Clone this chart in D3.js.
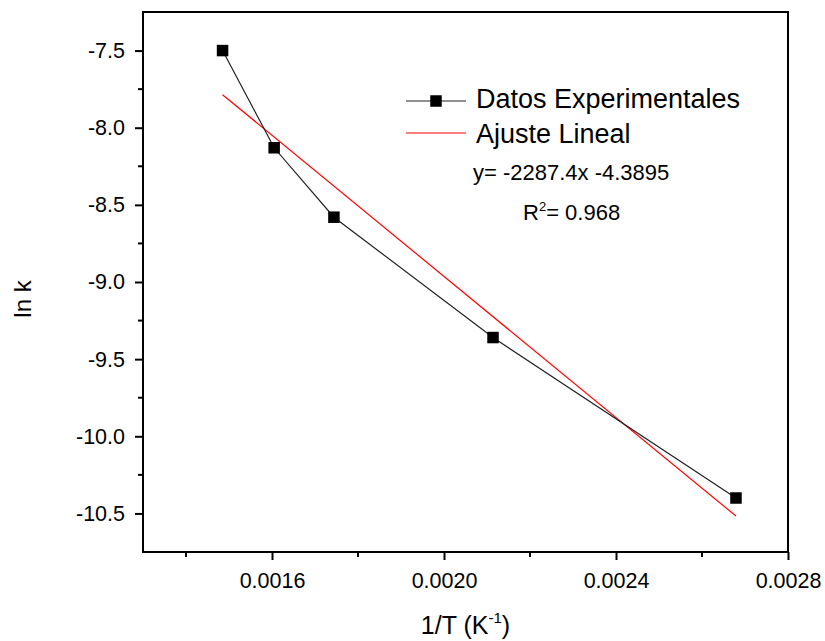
<!DOCTYPE html>
<html>
<head>
    <meta charset="utf-8" />
    <title>ln k vs 1/T</title>
    <script src="https://d3js.org/d3.v7.min.js"></script>
    <style>
        body { margin: 0; background: #fff; }
        text { font-family: Arial, "Liberation Sans", sans-serif; fill: #000; }
    </style>
</head>
<body>
    <div id="chart"></div>
</body>
</html>
<script>
    // data
    const invT = [0.001485, 0.001605, 0.001744, 0.002114, 0.002679];
    const lnK = [-7.50, -8.13, -8.58, -9.36, -10.40];
    // fitted line end points (y = -2287.4x - 4.3895)
    const fitX = [0.001485, 0.002679];
    const fitY = [-7.786, -10.517];
    const xTicks = [0.0016, 0.0020, 0.0024, 0.0028];
    const xMinor = [0.0014, 0.0018, 0.0022, 0.0026];
    const yTicks = [-7.5, -8.0, -8.5, -9.0, -9.5, -10.0, -10.5];
    const yMinor = [-7.75, -8.25, -8.75, -9.25, -9.75, -10.25];

    const W = 825, H = 641;
    const margin = { top: 12, right: 37, bottom: 89, left: 143 };
    const width = W - margin.left - margin.right,
        height = H - margin.top - margin.bottom;

    const svg = d3.select("#chart")
        .append("svg")
        .attr("width", W)
        .attr("height", H);

    const g = svg.append("g")
        .attr("transform", `translate(${margin.left},${margin.top})`);

    const x = d3.scaleLinear().domain([0.0013, 0.0028]).range([0, width]);
    const y = d3.scaleLinear().domain([-10.75, -7.25]).range([height, 0]);

    // frame
    g.append("rect")
        .attr("width", width)
        .attr("height", height)
        .attr("fill", "none")
        .attr("stroke", "#000")
        .attr("stroke-width", 2);

    // x axis
    const xAxis = g.append("g")
        .attr("transform", `translate(0,${height})`)
        .call(d3.axisBottom(x).tickValues(xTicks).tickSize(8).tickPadding(13)
            .tickFormat(d => d.toFixed(4)));
    xAxis.append("g").selectAll("line")
        .data(xMinor)
        .join("line")
        .attr("x1", d => x(d)).attr("x2", d => x(d))
        .attr("y1", 0).attr("y2", 5)
        .attr("stroke", "#000").attr("stroke-width", 2);

    // y axis
    const yAxis = g.append("g")
        .call(d3.axisLeft(y).tickValues(yTicks).tickSize(8).tickPadding(10)
            .tickFormat(d => d.toFixed(1)));
    yAxis.append("g").selectAll("line")
        .data(yMinor)
        .join("line")
        .attr("x1", 0).attr("x2", -5)
        .attr("y1", d => y(d)).attr("y2", d => y(d))
        .attr("stroke", "#000").attr("stroke-width", 2);

    [xAxis, yAxis].forEach(a => {
        a.select(".domain").remove();
        a.selectAll(".tick line").attr("stroke-width", 2);
        a.selectAll(".tick text").attr("font-size", 21.5)
            .style("font-family", "Arial, 'Liberation Sans', sans-serif");
    });

    // axis titles
    const xt = svg.append("text")
        .attr("x", margin.left + width / 2)
        .attr("y", 634)
        .attr("text-anchor", "middle")
        .attr("font-size", 25);
    xt.append("tspan").text("1/T (K");
    xt.append("tspan").attr("font-size", 15).attr("dy", -11).text("-1");
    xt.append("tspan").attr("dy", 11).text(")");

    svg.append("text")
        .attr("transform", "translate(31,299) rotate(-90)")
        .attr("text-anchor", "middle")
        .attr("font-size", 24)
        .text("ln k");

    // fit line
    const line = d3.line().x(d => x(d[0])).y(d => y(d[1]));
    g.append("path")
        .datum(d3.zip(fitX, fitY))
        .attr("d", line)
        .attr("fill", "none")
        .attr("stroke", "#ff0000")
        .attr("stroke-width", 1.2);

    // data line + squares
    const pts = d3.zip(invT, lnK);
    g.append("path")
        .datum(pts)
        .attr("d", line)
        .attr("fill", "none")
        .attr("stroke", "#222")
        .attr("stroke-width", 1.2);

    const sq = 11.5;
    g.selectAll(".pt")
        .data(pts)
        .join("rect")
        .attr("class", "pt")
        .attr("x", d => x(d[0]) - sq / 2)
        .attr("y", d => y(d[1]) - sq / 2)
        .attr("width", sq)
        .attr("height", sq)
        .attr("fill", "#000");

    // legend
    const lg = svg.append("g");
    lg.append("line").attr("x1", 406).attr("x2", 466).attr("y1", 101).attr("y2", 101)
        .attr("stroke", "#222").attr("stroke-width", 1.2);
    lg.append("rect").attr("x", 436 - sq / 2).attr("y", 101 - sq / 2)
        .attr("width", sq).attr("height", sq).attr("fill", "#000");
    lg.append("text").attr("x", 476).attr("y", 108).attr("font-size", 27)
        .text("Datos Experimentales");
    lg.append("line").attr("x1", 406).attr("x2", 466).attr("y1", 133).attr("y2", 133)
        .attr("stroke", "#ff0000").attr("stroke-width", 1.2);
    lg.append("text").attr("x", 476).attr("y", 143).attr("font-size", 27)
        .text("Ajuste Lineal");

    svg.append("text").attr("x", 473).attr("y", 180).attr("font-size", 22)
        .text("y= -2287.4x -4.3895");
    const r2 = svg.append("text").attr("x", 523).attr("y", 220).attr("font-size", 22);
    r2.append("tspan").text("R");
    r2.append("tspan").attr("font-size", 13).attr("dy", -9).text("2");
    r2.append("tspan").attr("dy", 9).text("= 0.968");
</script>
